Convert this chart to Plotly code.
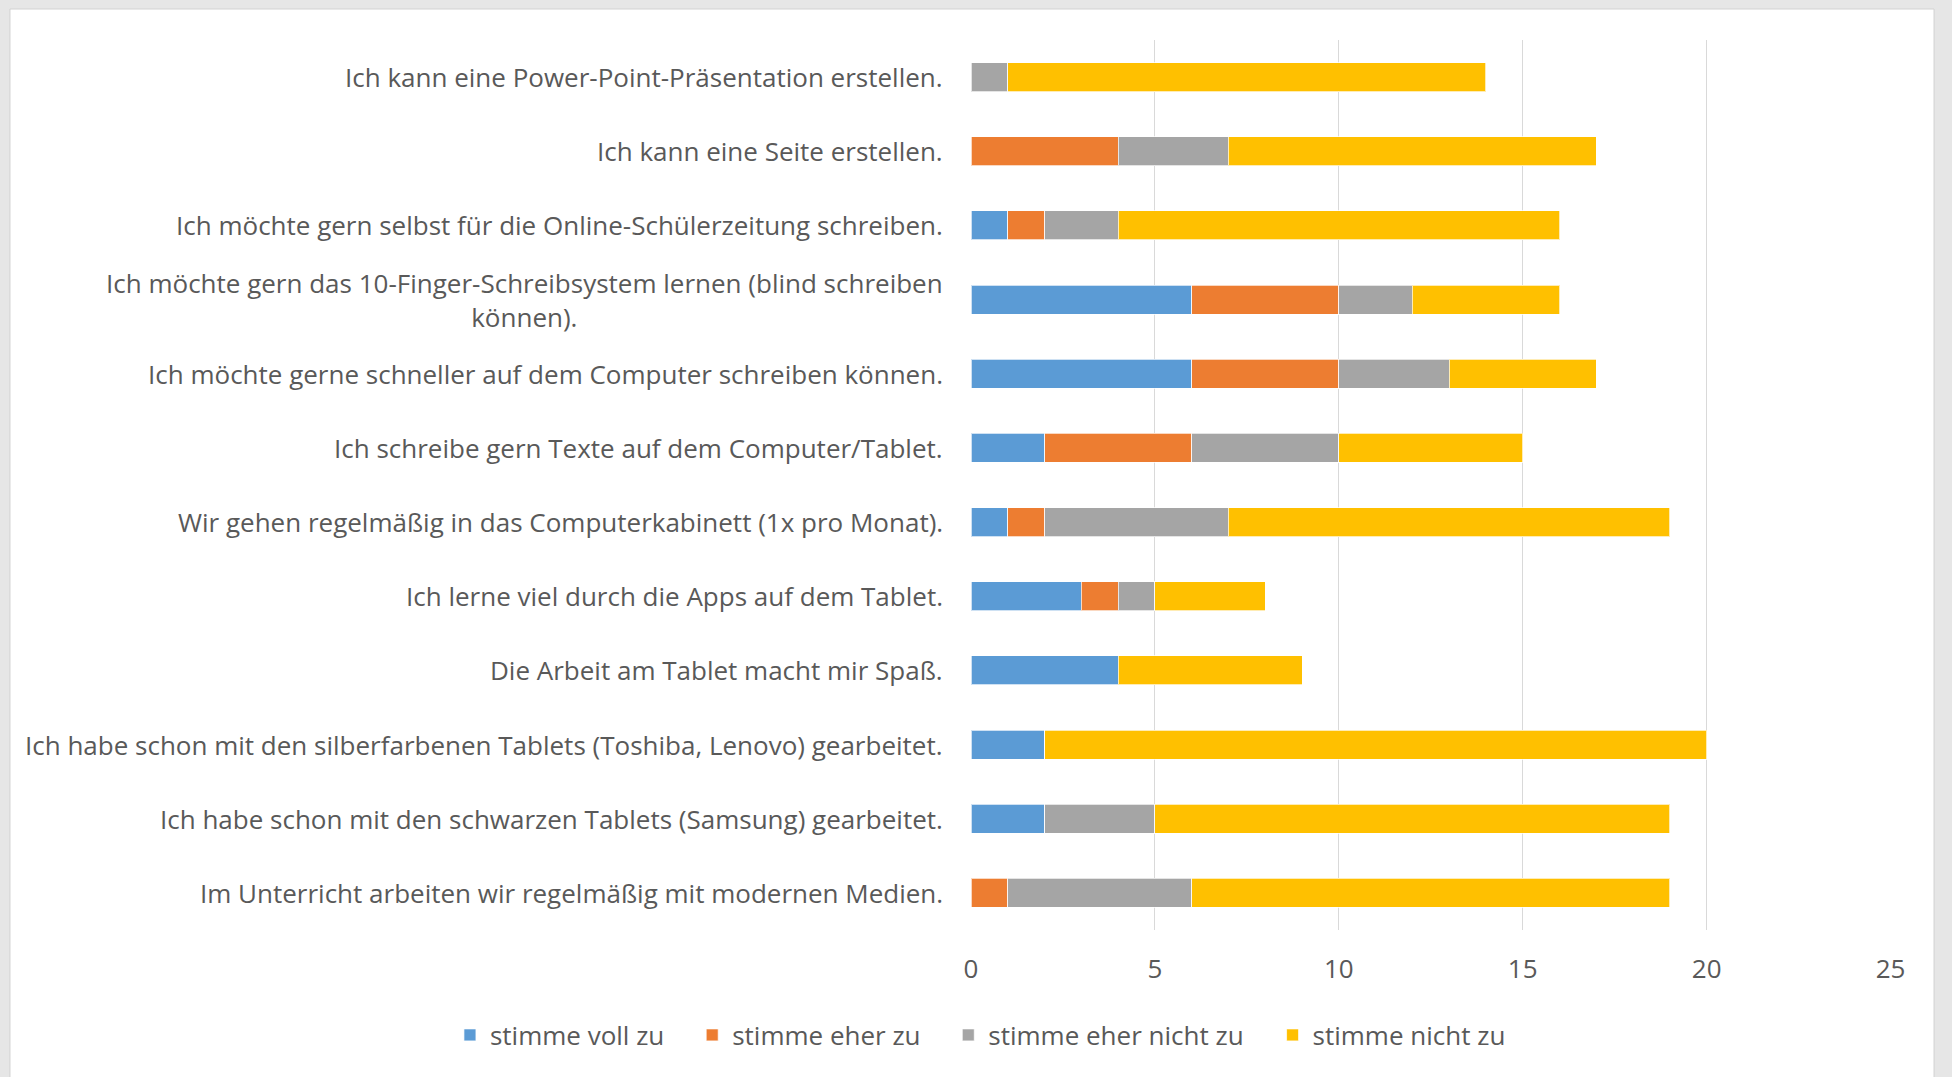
import plotly.graph_objects as go

# Aussagen, von unten nach oben (Reihenfolge der Kategorieachse)
aussagen = [
    "Im Unterricht arbeiten wir regelmäßig mit modernen Medien.",
    "Ich habe schon mit den schwarzen Tablets (Samsung) gearbeitet.",
    "Ich habe schon mit den silberfarbenen Tablets (Toshiba, Lenovo) gearbeitet.",
    "Die Arbeit am Tablet macht mir Spaß.",
    "Ich lerne viel durch die Apps auf dem Tablet.",
    "Wir gehen regelmäßig in das Computerkabinett (1x pro Monat).",
    "Ich schreibe gern Texte auf dem Computer/Tablet.",
    "Ich möchte gerne schneller auf dem Computer schreiben können.",
    "Ich möchte gern das 10-Finger-Schreibsystem lernen (blind schreiben<br>können).",
    "Ich möchte gern selbst für die Online-Schülerzeitung schreiben.",
    "Ich kann eine Seite erstellen.",
    "Ich kann eine Power-Point-Präsentation erstellen.",
]

voll_zu = [0, 2, 2, 4, 3, 1, 2, 6, 6, 1, 0, 0]
eher_zu = [1, 0, 0, 0, 1, 1, 4, 4, 4, 1, 4, 0]
eher_nicht_zu = [5, 3, 0, 0, 1, 5, 4, 3, 2, 2, 3, 1]
nicht_zu = [13, 14, 18, 5, 3, 12, 5, 4, 4, 12, 10, 13]

serien = [
    ("stimme voll zu", voll_zu, "#5B9BD5"),
    ("stimme eher zu", eher_zu, "#ED7D31"),
    ("stimme eher nicht zu", eher_nicht_zu, "#A5A5A5"),
    ("stimme nicht zu", nicht_zu, "#FFC000"),
]

W, H = 1952, 1077
FONT = "Open Sans"
SIZE = 26
TXT = "#595959"

# linke Kante jeder Legendeneintragung (px) – Excel setzt sie nach Textbreite
legenden_x = [448, 693, 952, 1280]

fig = go.Figure()
legend_ids = ["legend", "legend2", "legend3", "legend4"]
for (name, werte, farbe), lid in zip(serien, legend_ids):
    fig.add_trace(go.Bar(
        y=list(range(len(aussagen))), x=werte, name=name, orientation="h",
        marker=dict(color=farbe, line=dict(color="rgba(255,255,255,0.7)", width=1)),
        legend=lid, showlegend=True,
    ))

# Kategoriebeschriftungen als Annotationen, damit der Umbruch zentriert wird
annotations = [
    dict(text=t, x=949 / W, xref="paper", xanchor="right", y=i, yref="y",
         showarrow=False, align="center", font=dict(family=FONT, size=SIZE, color=TXT))
    for i, t in enumerate(aussagen)
]

legenden = {
    lid: dict(orientation="h", x=lx / W, xanchor="left", y=1 - 1035 / H, yanchor="middle",
              font=dict(family=FONT, size=SIZE, color=TXT), bgcolor="rgba(0,0,0,0)")
    for lid, lx in zip(legend_ids, legenden_x)
}

fig.update_layout(
    width=W, height=H, showlegend=True,
    barmode="stack", bargap=0.61,
    paper_bgcolor="#e6e6e6", plot_bgcolor="white",
    margin=dict(l=0, r=0, t=0, b=0),
    font=dict(family=FONT, size=SIZE, color=TXT),
    shapes=[dict(type="rect", xref="paper", yref="paper", x0=3 / W, x1=1949 / W,
                 y0=-0.01, y1=1 - 9 / H, fillcolor="white", line=dict(color="#d2d2d2", width=1),
                 layer="below")],
    annotations=annotations,
    xaxis=dict(domain=[975 / W, 1905 / W], range=[0, 25], dtick=5,
               showgrid=True, gridcolor="#d9d9d9", gridwidth=1, zeroline=False,
               showline=False, ticks="", ticklabelstandoff=21,
               tickfont=dict(family=FONT, size=SIZE, color=TXT)),
    yaxis=dict(domain=[1 - 930 / H, 1 - 40 / H], range=[-0.5, len(aussagen) - 0.5],
               showticklabels=False, showgrid=False, zeroline=False, ticks=""),
    **legenden,
)

fig.write_html(
    "out.html",
    config={"displayModeBar": False},
    post_script="document.body.style.margin='0';document.body.style.overflow='hidden';",
)
